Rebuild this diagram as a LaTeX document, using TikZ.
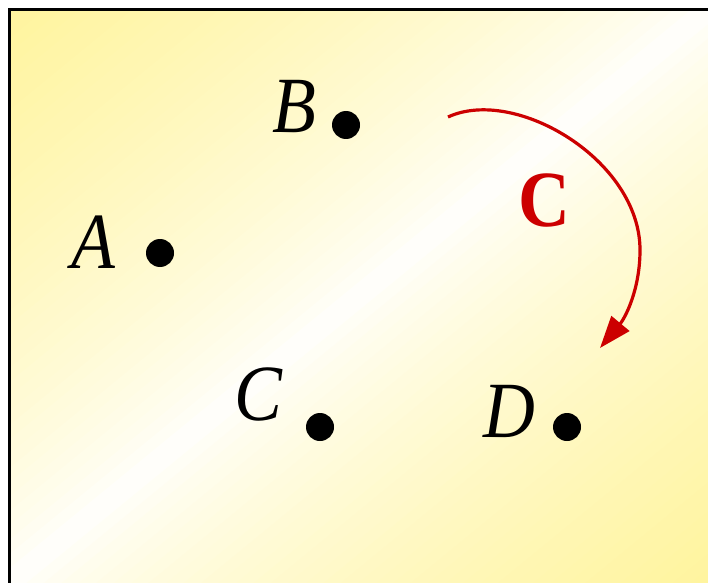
\documentclass[tikz,border=0pt]{standalone}
\usepackage{fontspec}
\setmainfont{Liberation Serif}
\usetikzlibrary{arrows.meta}
\definecolor{bgyellow}{RGB}{255,244,158}
\definecolor{arcred}{RGB}{204,0,0}
\newcommand\narrowtxt[1]{\scalebox{0.9}[1]{#1}}
\begin{document}
\begin{tikzpicture}[x=1bp,y=-1bp,
  dot/.style={circle,fill=black,inner sep=0pt,minimum size=28bp},
  lbl/.style={inner sep=0pt,font=\fontsize{80}{86}\selectfont\itshape},
  redlbl/.style={inner sep=0pt,text=arcred,font=\fontsize{80}{86}\selectfont\bfseries},
  arcline/.style={draw=arcred,line width=3.2bp,-{Triangle[length=32bp,width=23bp]}}]
\useasboundingbox (0,0) rectangle (708,583);
\fill[white] (0,0) rectangle (708,583);
% diagonal yellow-white-yellow gradient
\begin{scope}[shift={(9,10)},x={(699bp,0bp)},y={(0bp,-573bp)}]
\clip (0,0) rectangle (1,1);
\foreach \i in {0,...,79}{
  \pgfmathsetmacro\ca{\i/40}
  \pgfmathsetmacro\cb{(\i+1)/40+0.01}
  \pgfmathsetmacro\mix{100*(abs((\i+0.5)/40-1))^0.7}
  \fill[bgyellow!\mix!white] (\ca,0) -- (\cb,0) -- (\cb-1,1) -- (\ca-1,1) -- cycle;
}
\end{scope}
\draw[line width=3bp,line cap=rect] (9,583) -- (9,10) -- (708,10);
\node[dot] (dA) at (160,253) {};
\node[dot] (dB) at (346,125) {};
\node[dot] (dC) at (320,427) {};
\node[dot] (dD) at (567,427) {};
\node[lbl,anchor=base] (lA) at (93,268) {\narrowtxt{A}};
\node[lbl,anchor=base] (lB) at (294,133) {\narrowtxt{B}};
\node[lbl,anchor=base] (lC) at (258,420) {\narrowtxt{C}};
\node[lbl,anchor=base] (lD) at (509,437) {\narrowtxt{D}};
\node[redlbl,anchor=base] (rC) at (544,226) {\narrowtxt{C}};
\coordinate (arcS) at (448,117);
\coordinate (arcM) at (640,250);
\coordinate (arcE) at (600,348);
\draw[arcline] (arcS) .. controls (515,86) and (640,160) .. (arcM)
  .. controls (640,290) and (625,318) .. (arcE);
\end{tikzpicture}
\end{document}
